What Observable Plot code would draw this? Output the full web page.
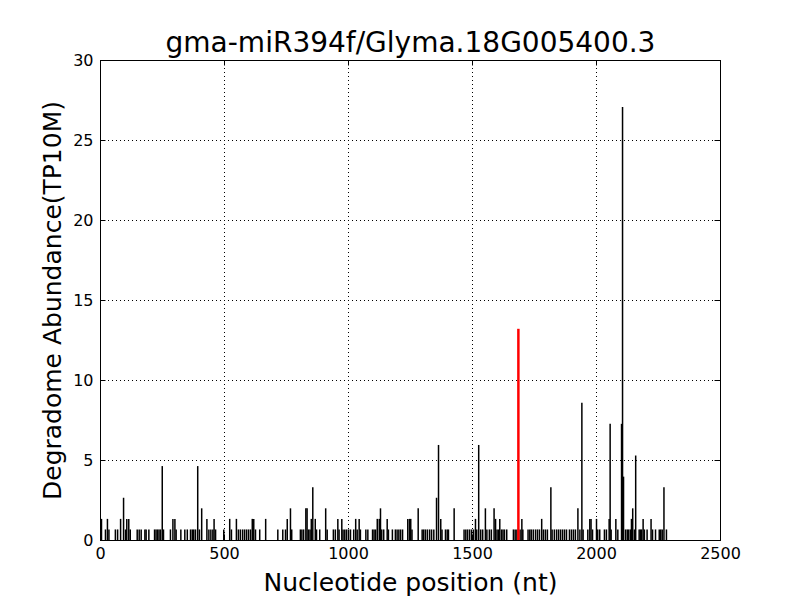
<!DOCTYPE html>
<html><head><meta charset="utf-8">
<script src="https://cdn.jsdelivr.net/npm/d3@7"></script>
<script src="https://cdn.jsdelivr.net/npm/@observablehq/plot@0.6"></script>
<style>body{margin:0;background:#fff;}</style>
</head><body><div id="chart"></div>
<script>
const titleText = "gma-miR394f/Glyma.18G005400.3";
const xLabel = "Nucleotide position (nt)";
const yLabel = "Degradome Abundance(TP10M)";
const xTicks = [0, 500, 1000, 1500, 2000, 2500];
const yTicks = [0, 5, 10, 15, 20, 25, 30];

const positions = [
  4, 20, 28, 34, 60, 69, 81, 93, 101, 106, 114, 120, 148, 156, 164, 179, 184, 195,
  218, 224, 230, 236, 242, 249, 254, 282, 292, 300, 305, 324, 340, 350, 363, 370, 376, 383,
  392, 399, 408, 429, 437, 445, 453, 458, 464, 497, 521, 528, 548, 556, 564, 573, 581, 589,
  597, 605, 612, 618, 625, 642, 666, 715, 735, 746, 753, 766, 771, 806, 812, 819, 828, 833,
  839, 845, 850, 856, 866, 871, 884, 908, 914, 939, 947, 957, 962, 973, 978, 985, 992, 1000,
  1008, 1021, 1029, 1035, 1043, 1048, 1070, 1078, 1097, 1103, 1109, 1116, 1124, 1129, 1134, 1142, 1156, 1161,
  1177, 1189, 1196, 1203, 1210, 1218, 1239, 1246, 1251, 1256, 1281, 1297, 1303, 1310, 1318, 1327, 1335, 1344,
  1355, 1363, 1372, 1377, 1391, 1398, 1403, 1426, 1466, 1473, 1480, 1488, 1496, 1504, 1512, 1517, 1525, 1533,
  1541, 1552, 1558, 1568, 1576, 1587, 1593, 1599, 1605, 1610, 1617, 1623, 1629, 1638, 1665, 1672, 1679, 1692,
  1699, 1703, 1724, 1731, 1737, 1745, 1754, 1762, 1770, 1779, 1786, 1794, 1802, 1816, 1821, 1830, 1839, 1847,
  1855, 1863, 1871, 1879, 1891, 1899, 1907, 1915, 1925, 1933, 1941, 1946, 1965, 1973, 1978, 1984, 2000, 2005,
  2013, 2032, 2040, 2051, 2055, 2059, 2078, 2086, 2101, 2105, 2109, 2117, 2124, 2130, 2137, 2141, 2146, 2153,
  2158, 2172, 2177, 2182, 2188, 2193, 2204, 2220, 2226, 2238, 2253, 2259, 2265, 2272, 2282
];
const abundances = [
  1.32, 0.66, 1.32, 0.66, 0.66, 0.66, 1.32, 2.64, 0.66, 1.32, 1.32, 0.66, 0.66, 0.66, 0.66, 0.66, 0.66, 0.66,
  0.66, 0.66, 0.66, 0.66, 0.66, 4.62, 0.66, 0.66, 1.32, 1.32, 0.66, 0.66, 0.66, 0.66, 0.66, 0.66, 0.66, 0.66,
  4.62, 0.66, 1.98, 1.32, 0.66, 0.66, 0.66, 1.32, 0.66, 0.66, 1.32, 0.66, 1.32, 0.66, 0.66, 0.66, 0.66, 0.66,
  0.66, 0.66, 1.32, 1.32, 0.66, 0.66, 1.32, 0.66, 0.66, 0.66, 1.32, 1.98, 0.66, 0.66, 0.66, 0.66, 1.98, 1.98,
  0.66, 0.66, 1.32, 3.3, 1.32, 0.66, 0.66, 1.98, 0.66, 0.66, 0.66, 1.32, 0.66, 1.32, 0.66, 0.66, 0.66, 0.66,
  0.66, 0.66, 1.32, 0.66, 1.32, 0.66, 0.66, 0.66, 0.66, 0.66, 0.66, 1.32, 1.32, 1.98, 0.66, 0.66, 1.32, 0.66,
  0.66, 0.66, 0.66, 0.66, 0.66, 0.66, 1.32, 1.32, 1.32, 0.66, 1.98, 0.66, 0.66, 0.66, 0.66, 0.66, 0.66, 0.66,
  2.64, 5.94, 1.32, 0.66, 0.66, 0.66, 0.66, 1.98, 0.66, 0.66, 0.66, 0.66, 0.66, 0.66, 1.32, 0.66, 5.94, 0.66,
  0.66, 1.98, 0.66, 0.66, 0.66, 1.98, 1.32, 0.66, 0.66, 1.32, 0.66, 0.66, 0.66, 0.66, 0.66, 0.66, 0.66, 0.66,
  1.32, 0.66, 0.66, 0.66, 0.66, 0.66, 0.66, 0.66, 0.66, 1.32, 0.66, 0.66, 0.66, 3.3, 0.66, 0.66, 0.66, 0.66,
  0.66, 0.66, 0.66, 0.66, 0.66, 0.66, 0.66, 0.66, 1.98, 0.66, 8.58, 0.66, 0.66, 1.32, 1.32, 0.66, 1.32, 0.66,
  0.66, 0.66, 0.66, 1.32, 7.26, 0.66, 1.32, 0.66, 7.26, 27.06, 3.96, 0.66, 0.66, 0.66, 0.66, 1.32, 1.98, 0.66,
  5.28, 0.66, 0.66, 0.66, 1.32, 0.66, 0.66, 1.32, 0.66, 0.66, 0.66, 0.66, 0.66, 3.3, 0.66
];
const targetPositions = [1685];
const targetAbundances = [13.2];

const reads = positions.map((p, i) => ({pos: p, val: abundances[i]}));
const target = targetPositions.map((p, i) => ({pos: p, val: targetAbundances[i]}));

const W = 800, H = 600, mT = 60, mR = 80, mB = 60, mL = 100;
const frameH = H - mT - mB, frameW = W - mL - mR;
const tickLen = 5.5;

const chart = Plot.plot({
  width: W, height: H,
  marginTop: mT, marginRight: mR, marginBottom: mB, marginLeft: mL,
  style: {fontFamily: "DejaVu Sans", background: "#fff", color: "#000"},
  x: {domain: [0, 2500]},
  y: {domain: [0, 30]},
  marks: [
    Plot.ruleX(xTicks, {x: d => d, stroke: "#000", strokeWidth: 1, strokeDasharray: "1,3"}),
    Plot.ruleY(yTicks, {y: d => d, stroke: "#000", strokeWidth: 1, strokeDasharray: "1,3"}),
    Plot.ruleX(reads, {x: "pos", y1: 0, y2: "val", stroke: "#000", strokeWidth: 1.5}),
    Plot.ruleX(target, {x: "pos", y1: 0, y2: "val", stroke: "#ff0000", strokeWidth: 2.5}),
    Plot.frame({stroke: "#000", strokeWidth: 1}),
    Plot.tickX(xTicks, {x: d => d, insetTop: frameH - tickLen, stroke: "#000"}),
    Plot.tickX(xTicks, {x: d => d, insetBottom: frameH - tickLen, stroke: "#000"}),
    Plot.tickY(yTicks, {y: d => d, insetRight: frameW - tickLen, stroke: "#000"}),
    Plot.tickY(yTicks, {y: d => d, insetLeft: frameW - tickLen, stroke: "#000"}),
    Plot.axisX({ticks: xTicks, tickSize: 0, tickPadding: 7, fontSize: 16, label: null, tickFormat: d => String(d)}),
    Plot.axisY({ticks: yTicks, tickSize: 0, tickPadding: 7, fontSize: 16, label: null, tickFormat: d => String(d)}),
    Plot.text([titleText], {text: d => d, frameAnchor: "top", dy: -17, fontSize: 28, lineAnchor: "middle", textAnchor: "middle"}),
    Plot.text([xLabel], {text: d => d, frameAnchor: "bottom", dy: 42, fontSize: 25, lineAnchor: "middle", textAnchor: "middle"}),
    Plot.text([yLabel], {text: d => d, frameAnchor: "left", dx: -48, rotate: -90, fontSize: 25, lineAnchor: "middle", textAnchor: "middle"})
  ]
});
document.getElementById("chart").appendChild(chart);
</script>
</body></html>
